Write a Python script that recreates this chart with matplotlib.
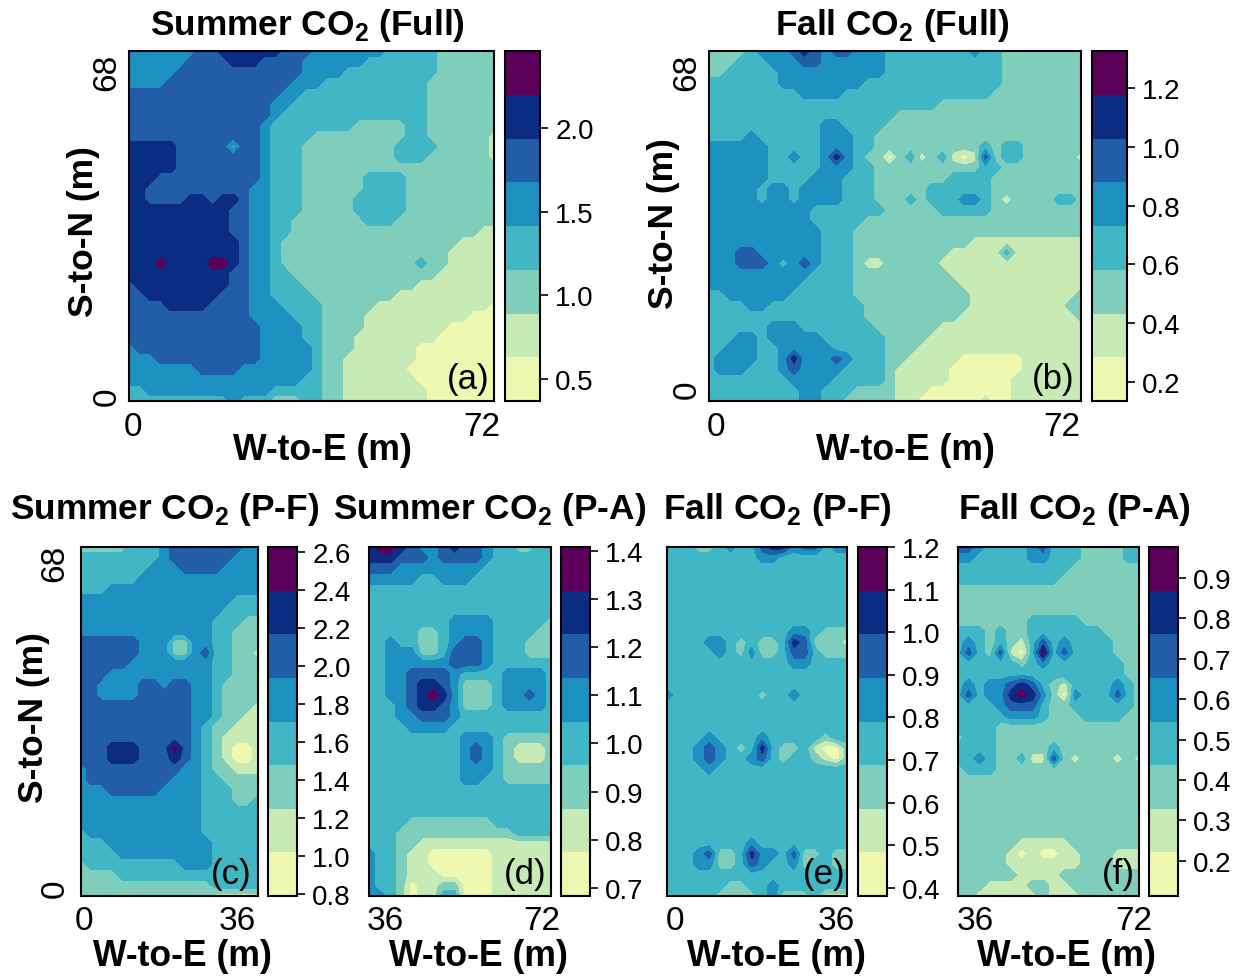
import numpy as np
import matplotlib
matplotlib.use('Agg')
import matplotlib.pyplot as plt

plt.rcParams['font.family'] = ['Liberation Sans', 'DejaVu Sans']
plt.rcParams['mathtext.fontset'] = 'custom'
plt.rcParams['mathtext.bf'] = 'Liberation Sans:bold'
plt.rcParams['mathtext.rm'] = 'Liberation Sans'

W, H = 1239, 978
colors = ['#EDF8B0', '#C8EBB5', '#7FCDBB', '#41B6C4', '#1D91C0', '#225EA8', '#0C2C84', '#5A0058']

# flux class (0 = palest bin, 7 = purple bin), north row first
summer_full = [
    "4444444 55 666666 555 4444444 33333 222222",
    "444444 5555 666 5555 444444 3333333 222222",
    "44444 555555555555 4444 333333333 222222",
    "4444 555555555555 444 3333333333 2222222",
    "555555555555555 44 333333333333 2222222",
    "55555555555555 44 3333333333333 2222222",
    "55555555555555 4 33333333333333 2222222",
    "5555555555555 4 33333333 22222 33 2222222",
    "5555555555555 4 3333 222222222 33 222222 1",
    "66666 55555 3 55 4 333 222222222 3333 22222 1",
    "66666 55555555 4 333 222222222 333 222222 1",
    "66666 55555555 4 333 2222222222222222222",
    "666 5555555555 4 333 222222 3333 222222222",
    "66 5555555555 44 333 222222 3333 222222222",
    "66 5555 66 5 66 5 44 333 22222 33333 222222222",
    "6666666666 55 44 333 22222 33333 222222222",
    "6666666666 55 44 33 2222222 333 2222222222",
    "6666666666 55 44 33 222222222222222222 11",
    "66666666666 5 44 3 22222222222222222 1111",
    "66666666666 5 44 3 2222222222222222 11111",
    "666 7 6666 77 6 5 44 3 2222222222222 3 22 11111",
    "6666666666 55 44 33 22222222222222 111111",
    "5 666666666 55 44 333 22222222222 11111111",
    "55 6666666 555 44 3333 22222222 1111111111",
    "5555 6666 5555 444 3333 22222 11111111111 0",
    "555555555555 4444 333 2222 1111111111 000",
    "5555555555555 4444 33 2222 11111111 00000",
    "5555555555555 4444 33 222 11111111 000000",
    "4 555555555555 44444 3 222 111111 00000000",
    "444 5555555555 44444 3 22 1111111 00000000",
    "4444444 5555 4444444 3 22 111111 000000000",
    "44444444444444444 33 22 1111111 00000000",
    "33 444444444444 33333 22 11111111 0000000",
    "3333333333 4 333 222 33 22 11111111 0000000",
]
fall_full = [
    "2222 3 444 5 6 5 4 55 444 33333333 4 33 22222222",
    "222 333 444 55 444444 33333333333 22222222",
    "22 33333 4444444444 33333333333 22222222",
    "3333333 44444444 3333333333333 22222222",
    "333333333 4444 33333333333333 222222222",
    "3333333333333333333333 22222222222222",
    "333333333333333333 222222222222222222",
    "33333333333 44 3333 2222222222222222222",
    "3333 4 333333 444 33 22222222222222222222",
    "444444 33333 444 33 2222222222 3 2 33 222222",
    "444444 33 4 33 4 6 4 3 22 0 2 3 1 2 3 1 0 1 5 2 33 22222 1",
    "444444 33333 444 33 2222222222 33 22222222",
    "444444 3333 444 333 2222222 3333 222222222",
    "44444 3 44 3 4444 333 22222 333333 222222222",
    "44444 3 44 3 4444 333 222 3 2 333 44 3 2 1 2222 33 2",
    "4444444444 3333333 22222 33333 222222222",
    "4444444444 33333 222222222222222222222",
    "44444444444 333 2222222222222222222222",
    "44444444444 333 22222222222 11111111111",
    "444 55 444444 333 222222222 11111 3 1111111",
    "444 555 4 3 4 5 4 333 2 11 22222 11111111111111",
    "4444444444 3333 222222222 1111111111111",
    "444444444 33333 2222222222 111111111111",
    "33 444444 333333 22222222222 1111111111 2",
    "3333 44 333333333 2222222222 111111111 22",
    "333333333333333 222222222 11111111111 2",
    "333333 444 3333333 222222 11111111111111",
    "333 44 3 44444 333333 2222 111111111111111",
    "33 444 33 44444 33333 222 1111111111111111",
    "3 4444 33 4 6 444 5 4 333 22 11111 000000 111111",
    "3 444 333 4 5 4444 3333 2 11111 0000000 111111",
    "33333333 4444 33333 2 11111 000000 1111111",
    "333333333 44 333 2222 111 00000000 1111111",
    "333333333 44 33 22222 11 000000 1 00 1111111",
]
summer_pf = [
    "22222 333 4 5555555 44",
    "33333333 4 555555 444",
    "3333333 444 5555 4444",
    "333333 444444444444",
    "333 444444444444444",
    "444444444444444 333",
    "44444444444444 3333",
    "4444444444444 333 22",
    "4444444444444 33 222",
    "555555 444 22 44 33 222",
    "555555 444 22 4 5 33 22 1",
    "55555 44444444 33 222",
    "555 4444444444 33 222",
    "55 4444 55 4 55 44 3 2222",
    "55 4444 55555 44 3 2222",
    "55555555555 44 3 222 1",
    "55555555555 44 3 22 11",
    "55555555555 4 3 22 111",
    "55555555555 4 3 2 1111",
    "555 666 555 7 5 4 3 2 1 00 1",
    "555 666 555 6 5 4 3 2 1 00 1",
    "4 555555555 44 3 22 111",
    "4 55555555 444 33 2222",
    "444 55555 4444 333 222",
    "444444444444 333 22 3",
    "444444444444 333333",
    "444444444444 333333",
    "3 44444444444 333333",
    "333 4444444444 33333",
    "3333 444444444 33333",
    "2 333333333 444 33333",
    "2222 33333333333333",
    "2222222222222 33333",
    "2222222222222 11111",
]
summer_pa = [
    "6 77 6 5 44 5 6 55 4 33 22 33",
    "666 555 4 5555 4 333333",
    "555 44444444 3333333",
    "44444 33 444 33333333",
    "333333333333333333",
    "333333333333333333",
    "333333333333333333",
    "33333333 4444 33333 2",
    "33333 22 3 4444 3333 22",
    "33 4 33 22 3 4 55 4 333 222",
    "33 444 22 3 555 4 333 222",
    "33 44444 4 555 4 333333",
    "33 44 5555 4 3333 4444 3",
    "33 44 5 66 5 4 222 3 4444 3",
    "33 44 5 6 7 6 4 222 3 44 5 4 3",
    "333 4 5 66 5 4 222 3 4444 3",
    "333 44 555 4 333333333",
    "3333 4444 3333333333",
    "333333333 444 3 22222",
    "333333333 4 5 4 3 2 111 2",
    "333333333 4 5 4 3 2 111 2",
    "333333333 444 3 22222",
    "333333333 44 33 22222",
    "333333333333333333",
    "333333333333333333",
    "333333333333333333",
    "3333 22222222 333333",
    "333 22222222222 3333",
    "333 22 1111111111111",
    "4 33 2 11 000000 111111",
    "4 33 2 11 000000 111111",
    "4 33 2 11 1 00000 111111",
    "4 33 2 0 11 22 000 111111",
    "44 3 2 0 11 33 000 111111",
]
fall_pf = [
    "333 22 3 4 33 5 66 4 55 3 44 3",
    "333333333 44 3333333",
    "333333333333333333",
    "333333333333333333",
    "333333333333333333",
    "333333333333333333",
    "333333333333333333",
    "333333333333333333",
    "333333333333 44 3 222",
    "3333 44 3 2 3 2 2 3 6 5 222 1",
    "33333 4 3 2 4 22 3 5 5 3 222",
    "333333333333 44 3333",
    "333333333333333333",
    "333333333333333333",
    "4 33333333 2 33 4 33333",
    "333333333333333333",
    "333333333333333333",
    "333333333333333333",
    "3333 4 3333 4 33333 2 33",
    "333 4 5 4 3 2 3 6 3 22 3 1 0 0 2",
    "333 4 5 4 33 4 5 3 2 33 2 1 0 2",
    "3333 4 3333333333333",
    "333333333333333333",
    "333333333333333333",
    "333333333333333333",
    "333333333333333333",
    "333333333333333333",
    "333333333333333333",
    "33333333 4 333333333",
    "333 4 5 22 3 6 4 4 3 5 22 3 22",
    "333 4 4 22 3 5 4 33 4 2 33 22",
    "333333333333333333",
    "333333 22 33 4 3333333",
    "2 3333 2222 3 4 222 3 111",
]
fall_pa = [
    "55 4 3333 4 5 333 222 2 33",
    "44 33333 44 333 2222 33",
    "33333333333 2222222",
    "3333333333 22222222",
    "222222222222222222",
    "222222222222222222",
    "222222222222222222",
    "2222222 33333 222222",
    "333 2 3 22 3333333 2222",
    "3 4 3 2 3 2 1 3 5 3 4 3333 222",
    "3 5 3 2 5 1 0 3 7 3 5 3333 222",
    "333333 2 3 4 3333333 22",
    "3333333333333333 22",
    "3 4 3 4 4 5 6 5 3 2 1 3333 4 3 2",
    "3 5 3 4 4 6 7 6 4 2 0 4 333 5 3 2",
    "3333 4 555 3 22 333333 2",
    "33333 444 3 222 3333 22",
    "3333 22222222222222",
    "2 333 22222222222222",
    "3333 22222 3 22222222",
    "33 4 3 22 3 11 5 2 1 222 1 2 1",
    "2 333 22222222222222",
    "222222222222222222",
    "222222222222222222",
    "222222222222222222",
    "222222222222222222",
    "222222222222222222",
    "222222222222222222",
    "222222 11111 2222222",
    "22222 1 0 1 00 11 222 111",
    "22222 1111111 222 111",
    "222222 1111 22222222",
    "222 1111 22 11 2222222",
    "22 111111 2 111 222222",
]

# colour bar ranges and tick values
bar_low = [0.368, 0.135, 0.79, 0.683, 0.381, 0.113]
bar_high = [2.46, 1.326, 2.626, 1.408, 1.20, 0.977]
bar_ticks = [
    [0.5, 1.0, 1.5, 2.0],
    [0.2, 0.4, 0.6, 0.8, 1.0, 1.2],
    [0.8, 1.0, 1.2, 1.4, 1.6, 1.8, 2.0, 2.2, 2.4, 2.6],
    [0.7, 0.8, 0.9, 1.0, 1.1, 1.2, 1.3, 1.4],
    [0.4, 0.5, 0.6, 0.7, 0.8, 0.9, 1.0, 1.1, 1.2],
    [0.2, 0.3, 0.4, 0.5, 0.6, 0.7, 0.8, 0.9],
]
grids = [summer_full, fall_full, summer_pf, summer_pa, fall_pf, fall_pa]
grid_cols = [36, 36, 18, 18, 18, 18]
titles = ['Summer CO$_{\\mathbf{2}}$ (Full)', 'Fall CO$_{\\mathbf{2}}$ (Full)',
          'Summer CO$_{\\mathbf{2}}$ (P-F)', 'Summer CO$_{\\mathbf{2}}$ (P-A)',
          'Fall CO$_{\\mathbf{2}}$ (P-F)', 'Fall CO$_{\\mathbf{2}}$ (P-A)']
tags = ['(a)', '(b)', '(c)', '(d)', '(e)', '(f)']
x_start = [0, 0, 0, 36, 0, 36]
x_end = [72, 72, 36, 72, 36, 72]

# pixel layout: left, right, top, bottom of map and bar
map_box = [(129, 494, 52, 402), (709, 1081, 52, 402), (81, 258, 548, 897),
           (369, 551, 548, 897), (667, 847, 548, 897), (958, 1139, 548, 897)]
bar_box = [(505, 540, 52, 402), (1092, 1127, 52, 402), (268, 297, 548, 897),
           (561, 590, 548, 897), (858, 887, 548, 897), (1149, 1178, 548, 897)]
title_xy = [(307, 26), (892, 26), (165, 510), (490, 510), (777, 510), (1074, 510)]
xlabel_xy = [(322, 451), (905, 451), (182, 957), (478, 957), (776, 957), (1066, 957)]
xstart_xy = [(133, 427), (716, 427), (84, 922), (385, 922), (675, 922), (975, 922)]
xend_xy = [(482, 427), (1062, 427), (237, 922), (542, 922), (836, 922), (1134, 922)]
tag_xy = [(468, 379), (1053, 379), (231, 875), (525, 875), (824, 875), (1118, 875)]


def class_to_value(rows, edges, ncol):
    cleaned = [r.replace(' ', '') for r in rows]
    # rows were counted by eye, so even them out to the grid width
    cleaned = [r.ljust(ncol, r[-1])[:ncol] for r in cleaned]
    classes = np.array([[int(c) for c in r] for r in cleaned])
    return edges[0] + (classes + 0.5) * (edges[1] - edges[0])


def add_axes_px(box):
    left, right, top, bottom = box
    return fig.add_axes([left / W, 1 - bottom / H, (right - left) / W, (bottom - top) / H])


def put(xy, s, **kw):
    fig.text(xy[0] / W, 1 - xy[1] / H, s, ha='center', va='center', **kw)


fig = plt.figure(figsize=(W / 100, H / 100), dpi=100)

for i in range(6):
    edges = np.linspace(bar_low[i], bar_high[i], 9)
    z = class_to_value(grids[i], edges, grid_cols[i])
    x = np.linspace(x_start[i], x_end[i], z.shape[1])
    y = np.linspace(68, 0, z.shape[0])

    ax = add_axes_px(map_box[i])
    cs = ax.contourf(x, y, z, levels=edges, colors=colors)
    ax.set_xticks([])
    ax.set_yticks([])
    for sp in ax.spines.values():
        sp.set_linewidth(1.5)

    cax = add_axes_px(bar_box[i])
    cb = fig.colorbar(cs, cax=cax, ticks=bar_ticks[i])
    cb.outline.set_linewidth(1.5)
    cb.ax.tick_params(length=6, width=1.2, labelsize=20, pad=5)
    cb.ax.set_yticklabels(['%.1f' % t for t in bar_ticks[i]])

    put(title_xy[i], titles[i], fontsize=25.4, fontweight='bold')
    put(xlabel_xy[i], 'W-to-E (m)', fontsize=25.7, fontweight='bold')
    put(xstart_xy[i], str(x_start[i]), fontsize=24)
    put(xend_xy[i], str(x_end[i]), fontsize=24)
    put(tag_xy[i], tags[i], fontsize=25)

# y axis text only on the left of each row
put((84, 232), 'S-to-N (m)', fontsize=25.5, fontweight='bold', rotation=90)
put((664, 224), 'S-to-N (m)', fontsize=25.5, fontweight='bold', rotation=90)
put((33, 718), 'S-to-N (m)', fontsize=25.5, fontweight='bold', rotation=90)
for px, py68, py0 in [(107, 72, 397), (687, 72, 390), (55, 563, 889)]:
    put((px, py68), '68', fontsize=24, rotation=90)
    put((px, py0), '0', fontsize=24, rotation=90)

fig.savefig('out.png', dpi=100)
